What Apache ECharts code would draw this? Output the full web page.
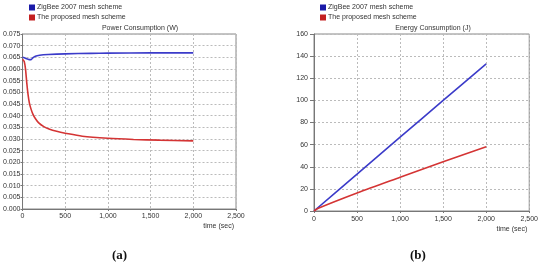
<!DOCTYPE html>
<html><head><meta charset="utf-8">
<script src="https://cdn.jsdelivr.net/npm/echarts@6/dist/echarts.min.js"></script>
<style>html,body{margin:0;padding:0;background:#fff}#c{width:541px;height:267px}</style>
</head><body><div id="c"></div>
<script>
const seriesNames = ['ZigBee 2007 mesh scheme', 'The proposed mesh scheme'];
const xTicks = [0, 500, 1000, 1500, 2000, 2500];
// Power consumption (W): [time, value]
const powerZigbee = [[0,0.0650],[20,0.0648],[50,0.0644],[80,0.0640],[100,0.0640],[120,0.0648],[150,0.0655],[200,0.0659],[300,0.0662],[500,0.0665],[800,0.0667],[1000,0.0668],[1500,0.0669],[2000,0.0669]];
const powerProposed = [[0,0.0642],[20,0.0632],[35,0.0600],[50,0.0540],[65,0.0490],[80,0.0455],[100,0.0428],[120,0.0408],[150,0.0388],[190,0.0369],[250,0.0353],[310,0.0343],[400,0.0333],[500,0.0325],[700,0.0312],[1000,0.0303],[1300,0.0298],[1600,0.0295],[2000,0.0292]];
// Energy consumption (J)
const energyZigbee = [[0,0],[500,33.3],[1000,66.7],[1500,100],[2000,133]];
const energyProposed = [[0,0],[50,2.5],[500,16.3],[1000,30.5],[1500,44.5],[2000,58]];

const blue = '#3b3bc9', red = '#d43434';
const txt = '#333';
const fam = '"Liberation Sans", Arial, sans-serif';
const fmt = v => v.toLocaleString('en-US');

function xAxis(gi, lm){
  return {type:'value', gridIndex:gi, min:0, max:2500, interval:500,
    name:'time (sec)', nameLocation:'end', nameGap:-2,
    nameTextStyle:{fontSize:7, color:txt, fontFamily:fam, align:'right', verticalAlign:'top', padding:[lm+10,0,0,0]},
    axisLine:{lineStyle:{color:'#777', width:1}},
    axisTick:{show:true, length:2, lineStyle:{color:'#777'}},
    axisLabel:{fontSize:7, color:txt, fontFamily:fam, margin:lm, formatter:fmt, showMaxLabel:true},
    splitLine:{show:true, lineStyle:{color:'#bbb', type:[2,2], width:1}}};
}
function yAxis(gi, max, interval, dec, tl, lm){
  return {type:'value', gridIndex:gi, min:0, max:max, interval:interval,
    axisLine:{show:true, lineStyle:{color:'#777', width:1}},
    axisTick:{show:true, length:tl, lineStyle:{color:'#777'}},
    axisLabel:{fontSize:7, color:txt, fontFamily:fam, margin:lm, formatter:v=>v.toFixed(dec)},
    splitLine:{show:true, lineStyle:{color:'#bbb', type:[2,2], width:1}}};
}
function legend(left){
  return {left:left, top:4, orient:'vertical', itemWidth:6, itemHeight:6, itemGap:3, padding:0,
    icon:'rect', textStyle:{fontSize:7, color:txt, fontFamily:fam, padding:[0,0,0,-3]}, data:seriesNames};
}
function line(name, data, color, xi){
  return {type:'line', name:name, data:data, xAxisIndex:xi, yAxisIndex:xi, showSymbol:false, symbol:'none',
    smooth:0.3, lineStyle:{color:color, width:1.6}, itemStyle:{color:name===seriesNames[0]?'#1a1aa8':'#c42020'}};
}
const chart = echarts.init(document.getElementById('c'), null, {renderer:'canvas'});
chart.setOption({
  animation:false,
  backgroundColor:'#fff',
  title:[
    {text:'Power Consumption (W)', left:140, top:25, padding:0, textAlign:'center', textStyle:{fontSize:7, fontWeight:'normal', color:txt, fontFamily:fam}},
    {text:'Energy Consumption (J)', left:433, top:25, padding:0, textAlign:'center', textStyle:{fontSize:7, fontWeight:'normal', color:txt, fontFamily:fam}}
  ],
  legend:[legend(29), legend(320)],
  grid:[
    {left:22, top:34, width:214, height:175, show:true, borderColor:'#888', borderWidth:1, backgroundColor:'transparent'},
    {left:314, top:34, width:218, height:177, show:true, borderColor:'#888', borderWidth:1, backgroundColor:'transparent'}
  ],
  xAxis:[xAxis(0,4), xAxis(1,5)],
  yAxis:[yAxis(0,0.075,0.005,3,2,2), yAxis(1,160,20,0,4,6)],
  series:[
    line(seriesNames[0], powerZigbee, blue, 0),
    line(seriesNames[1], powerProposed, red, 0),
    line(seriesNames[0], energyZigbee, blue, 1),
    line(seriesNames[1], energyProposed, red, 1)
  ],
  graphic:[
    {type:'text', left:112, top:249, style:{text:'(a)', font:'bold 13px "Liberation Serif", serif', fill:'#111'}},
    {type:'text', left:410, top:249, style:{text:'(b)', font:'bold 13px "Liberation Serif", serif', fill:'#111'}}
  ]
});
</script></body></html>
